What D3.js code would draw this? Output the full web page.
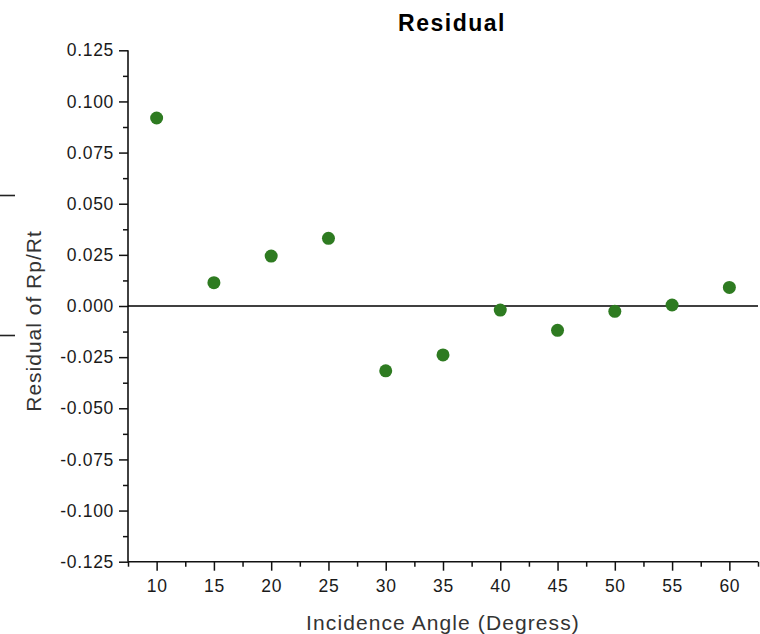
<!DOCTYPE html>
<html>
<head>
<meta charset="utf-8">
<script src="https://cdn.jsdelivr.net/npm/d3@7"></script>
<style>
  html, body { margin: 0; padding: 0; background: #fff; }
  svg { display: block; font-family: "Liberation Sans", Arial, Helvetica, sans-serif; }
</style>
</head>
<body>
<svg id="chart" width="760" height="634"></svg>
<script>
// Residuals of the Rp/Rt fit at each incidence angle
const angles = [10, 15, 20, 25, 30, 35, 40, 45, 50, 55, 60];
const residuals = [0.0919, 0.0114, 0.0244, 0.0331, -0.0317, -0.0239, -0.0020, -0.0119, -0.0026, 0.0005, 0.0091];

const xMajorTicks = [10, 15, 20, 25, 30, 35, 40, 45, 50, 55, 60];
const xMinorTicks = [7.5, 12.5, 17.5, 22.5, 27.5, 32.5, 37.5, 42.5, 47.5, 52.5, 57.5, 62.5];
const yMajorTicks = [0.125, 0.100, 0.075, 0.050, 0.025, 0, -0.025, -0.050, -0.075, -0.100, -0.125];
const yMinorTicks = [0.1125, 0.0875, 0.0625, 0.0375, 0.0125, -0.0125, -0.0375, -0.0625, -0.0875, -0.1125];

const titleText = "Residual";
const xTitleText = "Incidence Angle (Degress)";
const yTitleText = "Residual of Rp/Rt";

const svg = d3.select("#chart");
const plot = { left: 128, right: 758, top: 50.3, bottom: 561.7 };

const x = d3.scaleLinear().domain([7.5, 62.5]).range([plot.left, plot.right]);
const y = d3.scaleLinear().domain([-0.125, 0.125]).range([plot.bottom, plot.top]);

// plain hyphen for negative tick values
const yFormat = d => d.toFixed(3).replace("\u2212", "-");

// short bracket strokes at the left edge
svg.append("g").attr("class", "edge-bracket")
  .selectAll("line").data([195.5, 335.5]).join("line")
  .attr("x1", 0).attr("x2", 15).attr("y1", d => d).attr("y2", d => d)
  .attr("stroke", "#222").attr("stroke-width", 1.6);

// y axis: labelled major ticks plus unlabelled minor ticks
const yAxis = svg.append("g").attr("transform", `translate(${plot.left},0)`)
  .call(d3.axisLeft(y).tickValues(yMajorTicks).tickSize(9).tickPadding(5)
    .tickFormat(yFormat));
svg.append("g").attr("transform", `translate(${plot.left},0)`)
  .call(d3.axisLeft(y).tickValues(yMinorTicks).tickSize(5).tickFormat(""))
  .call(g => g.select(".domain").remove());

// x axis
const xAxis = svg.append("g").attr("transform", `translate(0,${plot.bottom})`)
  .call(d3.axisBottom(x).tickValues(xMajorTicks).tickSize(9).tickPadding(9)
    .tickFormat(d => String(d)));
svg.append("g").attr("transform", `translate(0,${plot.bottom})`)
  .call(d3.axisBottom(x).tickValues(xMinorTicks).tickSize(5).tickFormat(""))
  .call(g => g.select(".domain").remove());

yAxis.select(".domain").remove();
xAxis.select(".domain").remove();
svg.append("line")
  .attr("x1", plot.left).attr("x2", plot.left)
  .attr("y1", plot.top).attr("y2", plot.bottom)
  .attr("stroke", "#111").attr("stroke-width", 1.6);
svg.append("line")
  .attr("x1", plot.left).attr("x2", plot.right)
  .attr("y1", plot.bottom).attr("y2", plot.bottom)
  .attr("stroke", "#111").attr("stroke-width", 1.6);

svg.selectAll(".tick line").attr("stroke", "#111").attr("stroke-width", 1.5);
svg.selectAll(".tick text")
  .attr("fill", "#1a1a1a")
  .style("font-size", "17.5px")
  .style("letter-spacing", "0.7px");

// zero reference line
svg.append("line")
  .attr("x1", plot.left).attr("x2", plot.right)
  .attr("y1", y(0)).attr("y2", y(0))
  .attr("stroke", "#000").attr("stroke-width", 1.6);

// residual points
svg.append("g").selectAll("circle")
  .data(angles.map((a, i) => ({ a, r: residuals[i] })))
  .join("circle")
  .attr("cx", d => x(d.a))
  .attr("cy", d => y(d.r))
  .attr("r", 6.5)
  .attr("fill", "#2e7b21");

// titles
svg.append("text")
  .attr("x", 452).attr("y", 31)
  .attr("text-anchor", "middle")
  .style("font-size", "23px").style("font-weight", "bold")
  .style("letter-spacing", "1.5px")
  .attr("fill", "#000")
  .text(titleText);

svg.append("text")
  .attr("x", 443).attr("y", 630)
  .attr("text-anchor", "middle")
  .style("font-size", "21px").style("letter-spacing", "1.1px")
  .attr("fill", "#333")
  .text(xTitleText);

svg.append("text")
  .attr("transform", "translate(41,321) rotate(-90)")
  .attr("text-anchor", "middle")
  .style("font-size", "21px").style("letter-spacing", "1.0px")
  .attr("fill", "#333")
  .text(yTitleText);
</script>
</body>
</html>
